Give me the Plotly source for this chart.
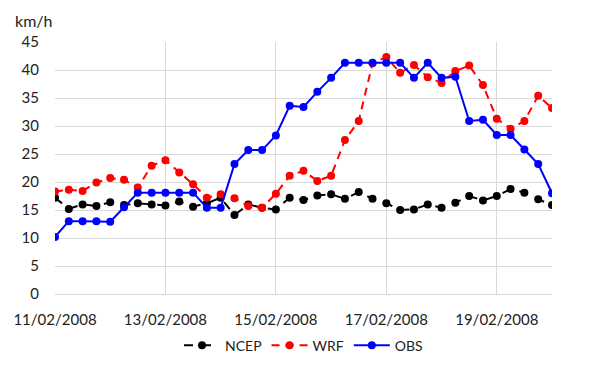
import pandas as pd
import plotly.graph_objects as go

# 6-hourly timestamps from 11/02/2008 00:00 to 20/02/2008 00:00
times = pd.date_range("2008-02-11 00:00", "2008-02-20 00:00", freq="6h")

ncep = [17.2, 15.2, 16.0, 15.7, 16.4, 15.9, 16.2, 16.0, 15.8, 16.5,
        15.6, 16.2, 17.2, 14.1, 16.0, 15.4, 15.1, 17.2, 16.8, 17.6,
        17.8, 17.0, 18.2, 17.0, 16.2, 15.0, 15.1, 16.0, 15.4, 16.3,
        17.5, 16.7, 17.5, 18.75, 18.1, 16.9, 15.9]
wrf = [18.3, 18.6, 18.4, 19.9, 20.7, 20.4, 19.0, 22.9, 23.9, 21.7,
       19.6, 17.2, 17.8, 17.1, 15.7, 15.4, 17.9, 21.1, 22.0, 20.2,
       21.1, 27.5, 30.9, 41.2, 42.3, 39.5, 40.9, 38.7, 37.7, 39.8,
       40.8, 37.3, 31.3, 29.5, 30.9, 35.4, 33.2]
obs = [10.2, 13.0, 13.0, 13.0, 12.9, 15.5, 18.1, 18.1, 18.1, 18.1,
       18.1, 15.4, 15.4, 23.2, 25.7, 25.7, 28.3, 33.6, 33.4, 36.1,
       38.6, 41.3, 41.3, 41.3, 41.3, 41.3, 38.6, 41.3, 38.6, 38.8,
       30.9, 31.1, 28.4, 28.4, 25.8, 23.2, 18.0]

y_ticks = [0, 5, 10, 15, 20, 25, 30, 35, 40, 45]
x_tick_dates = ["2008-02-11", "2008-02-13", "2008-02-15", "2008-02-17", "2008-02-19"]
x_tick_labels = ["11/02/2008", "13/02/2008", "15/02/2008", "17/02/2008", "19/02/2008"]

FONT = "Lato, 'Open Sans', sans-serif"

fig = go.Figure()
fig.add_trace(go.Scatter(x=times, y=ncep, name="NCEP", mode="lines+markers",
                         line=dict(color="black", width=2, dash="dash"),
                         marker=dict(color="black", size=8)))
fig.add_trace(go.Scatter(x=times, y=wrf, name="WRF", mode="lines+markers",
                         line=dict(color="#ff0000", width=2, dash="8px,6px"),
                         marker=dict(color="#ff0000", size=8)))
fig.add_trace(go.Scatter(x=times, y=obs, name="OBS", mode="lines+markers",
                         line=dict(color="#0000ff", width=2),
                         marker=dict(color="#0000ff", size=8)))

# page body adds an 8px offset, so the figure is 8px smaller and margins shifted
fig.update_layout(
    width=598, height=361,
    margin=dict(l=47, r=54, t=34, b=75, autoexpand=False),
    paper_bgcolor="white", plot_bgcolor="white",
    font=dict(family=FONT, size=15, color="#222222"),
    showlegend=True,
    legend=dict(orientation="h", x=0.5, xanchor="center", y=-0.205, yanchor="middle",
                font=dict(size=14), itemwidth=36, tracegroupgap=0),
    annotations=[dict(text="km/h", xref="paper", yref="paper", x=-0.085, y=1.04,
                      xanchor="left", yanchor="bottom", showarrow=False,
                      font=dict(size=16, family=FONT, color="#222222"))],
)
fig.update_xaxes(
    type="date", automargin=False,
    range=["2008-02-11 00:00", "2008-02-20 00:00"],
    tickvals=x_tick_dates, ticktext=x_tick_labels,
    showgrid=True, gridcolor="#d9d9d9", gridwidth=1,
    showline=True, linecolor="#d9d9d9", linewidth=1,
    ticks="", zeroline=False, tickfont=dict(size=15), ticklabelstandoff=12,
)
fig.update_yaxes(
    range=[0, 45], tickvals=y_ticks, automargin=False,
    showgrid=True, gridcolor="#d9d9d9", gridwidth=1,
    showline=False, zeroline=False, ticks="", tickfont=dict(size=15),
    ticklabelstandoff=15,
)

fig.write_html("out.html")
